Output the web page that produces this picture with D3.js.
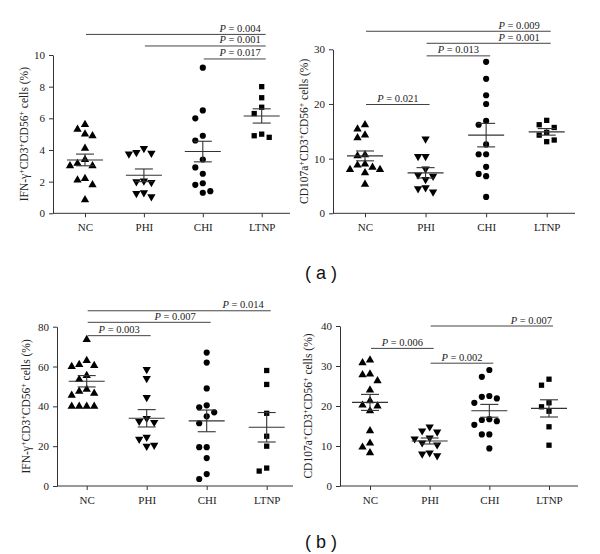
<!DOCTYPE html>
<html><head><meta charset="utf-8">
<script src="https://cdn.jsdelivr.net/npm/d3@7"></script>
<style>body{margin:0;background:#fff}svg{display:block}</style>
</head><body>
<svg id="c" width="600" height="554"></svg>
<script>
const categories = ["NC", "PHI", "CHI", "LTNP"];

// Panel (a) left: IFN-γ+CD3+CD56+ cells (%)
const a1NC   = [5.6, 5.3, 5.0, 4.9, 4.1, 3.4, 3.15, 3.0, 3.0, 2.2, 2.1, 1.8, 0.85];
const a1PHI  = [4.1, 3.85, 3.8, 3.75, 2.05, 2.0, 1.95, 1.3, 1.25, 1.05];
const a1CHI  = [9.2, 6.5, 6.0, 4.9, 4.6, 3.4, 2.9, 2.5, 1.9, 1.8, 1.4, 1.3];
const a1LTNP = [8.0, 7.3, 6.7, 6.3, 5.0, 4.9, 4.8];
const a1Mean = [3.37, 2.4, 3.9, 6.15];
const a1Sem  = [0.37, 0.4, 0.65, 0.45];
const a1Ticks = [0, 2, 4, 6, 8, 10];
const a1Comp = [["NC", "LTNP", 11.3, "0.004"], ["PHI", "LTNP", 10.57, "0.001"], ["CHI", "LTNP", 9.75, "0.017"]];

// Panel (a) right: CD107a+CD3+CD56+ cells (%)
const a2NC   = [16.2, 15.4, 14.3, 13.8, 10.7, 10.5, 9.0, 8.8, 8.4, 8.0, 8.0, 7.4, 5.3];
const a2PHI  = [13.6, 10.4, 10.4, 8.1, 7.0, 6.8, 6.2, 4.7, 4.5, 3.9];
const a2CHI  = [27.7, 24.6, 21.6, 20.0, 16.9, 16.2, 12.6, 10.8, 10.8, 8.5, 7.2, 6.8, 3.0];
const a2LTNP = [17.0, 16.2, 15.7, 14.8, 14.3, 13.4, 13.1];
const a2Mean = [10.5, 7.4, 14.3, 14.9];
const a2Sem  = [0.9, 0.95, 2.15, 0.6];
const a2Ticks = [0, 10, 20, 30];
const a2Comp = [["NC", "LTNP", 33.3, "0.009"], ["PHI", "LTNP", 31.1, "0.001"], ["PHI", "CHI", 28.8, "0.013"], ["NC", "PHI", 19.9, "0.021"]];

// Panel (b) left: IFN-γ+CD3+CD56+ cells (%)
const b1NC   = [73.5, 63, 61, 60.5, 60, 55.5, 53.5, 48.5, 47.5, 46.5, 45.5, 40, 40, 40, 40];
const b1PHI  = [58.5, 54, 44.5, 34, 32.5, 32, 24.5, 23.5, 20.5, 20];
const b1CHI  = [67, 62, 49, 40.5, 39.5, 37, 35, 31.5, 19.5, 19.5, 14, 6, 3.5];
const b1LTNP = [58, 51, 36.5, 25, 20, 9, 7.5];
const b1Mean = [52.6, 34.0, 32.7, 29.5];
const b1Sem  = [2.85, 4.35, 5.45, 7.4];
const b1Ticks = [0, 20, 40, 60, 80];
const b1Comp = [["NC", "LTNP", 88, "0.014"], ["NC", "CHI", 82.2, "0.007"], ["NC", "PHI", 75.5, "0.003"]];

// Panel (b) right: CD107a+CD3+CD56+ cells (%)
const b2NC   = [31.5, 30.8, 28, 27.8, 26.3, 24, 21.3, 20.2, 20, 18.8, 13.8, 10.7, 9.7, 8.3];
const b2PHI  = [14.8, 13.8, 13.5, 12, 11.8, 10.8, 10.3, 8.3, 8.0, 7.6];
const b2CHI  = [29, 27.3, 22.5, 22.3, 21.9, 20.8, 16.7, 16.5, 16.2, 15.3, 12.9, 12.9, 9.4];
const b2LTNP = [26.7, 25.2, 20.8, 19.8, 18.7, 14.8, 10.2];
const b2Mean = [20.9, 11.25, 18.8, 19.4];
const b2Sem  = [2.0, 0.75, 1.6, 2.15];
const b2Ticks = [0, 10, 20, 30, 40];
const b2Comp = [["PHI", "LTNP", 40, "0.007"], ["NC", "PHI", 34.4, "0.006"], ["PHI", "CHI", 30.7, "0.002"]];

const ifnLabel = [["IFN-γ", false], ["+", true], ["CD3", false], ["+", true], ["CD56", false], ["+", true], [" cells (%)", false]];
const cdLabel  = [["CD107a", false], ["+", true], ["CD3", false], ["+", true], ["CD56", false], ["+", true], [" cells (%)", false]];
const panelLetters = ["( a )", "( b )"];

// ---- layout (not data) ----
const layouts = [
  {x0: 53,  xEnd: 290, xFirst: 85,  xLast: 261.7, yBot: 213.3, yTop: 55,   labX: 28,  anchors: [["end", -5], ["end", -5], ["end", -5]]},
  {x0: 333, xEnd: 575, xFirst: 365, xLast: 546.7, yBot: 213.3, yTop: 49.3, labX: 308, anchors: [["end", -11], ["end", -11], ["middle", 0], ["middle", 0]]},
  {x0: 57,  xEnd: 293, xFirst: 86.7,xLast: 266.7, yBot: 486,   yTop: 326.7,labX: 30,  anchors: [["end", -7], ["end", -15], ["middle", 0]]},
  {x0: 340, xEnd: 578, xFirst: 370, xLast: 549,   yBot: 486,   yTop: 326,  labX: 311.7, anchors: [["end", -1], ["middle", 0], ["middle", 0]]}
];
const panels = [
  {groups: [a1NC, a1PHI, a1CHI, a1LTNP], mean: a1Mean, sem: a1Sem, ticks: a1Ticks, comp: a1Comp, label: ifnLabel},
  {groups: [a2NC, a2PHI, a2CHI, a2LTNP], mean: a2Mean, sem: a2Sem, ticks: a2Ticks, comp: a2Comp, label: cdLabel},
  {groups: [b1NC, b1PHI, b1CHI, b1LTNP], mean: b1Mean, sem: b1Sem, ticks: b1Ticks, comp: b1Comp, label: ifnLabel},
  {groups: [b2NC, b2PHI, b2CHI, b2LTNP], mean: b2Mean, sem: b2Sem, ticks: b2Ticks, comp: b2Comp, label: cdLabel}
];

const svg = d3.select("#c");
const serif = "'Liberation Serif', 'Times New Roman', serif";
const symbols = [
  {type: d3.symbolTriangle, size: 30, rot: 0},
  {type: d3.symbolTriangle, size: 30, rot: 180},
  {type: d3.symbolCircle, size: 30, rot: 0},
  {type: d3.symbolSquare, size: 28, rot: 0}
];

function swarm(values, yScale, cx) {
  const slot = 7.5, minGap = 8;
  const placed = [];
  const sorted = values.slice().sort((a, b) => b - a);
  const order = [0, -1, 1, -2, 2, -3, 3, -4, 4];
  return sorted.map(v => {
    const py = yScale(v);
    let s = 0;
    for (const o of order) {
      if (!placed.some(p => p.s === o && Math.abs(p.py - py) < minGap)) { s = o; break; }
    }
    placed.push({s, py});
    return {v, x: cx + s * slot, y: py};
  });
}

panels.forEach((p, i) => {
  const L = layouts[i];
  const g = svg.append("g");
  const y = d3.scaleLinear().domain([0, d3.max(p.ticks)]).range([L.yBot, L.yTop]);
  const x = d3.scalePoint().domain(categories).range([L.xFirst, L.xLast]);

  // y axis
  const ya = g.append("g").attr("transform", `translate(${L.x0},0)`)
    .call(d3.axisLeft(y).tickValues(p.ticks).tickSize(4).tickSizeOuter(0).tickPadding(4));
  ya.attr("font-family", serif).attr("font-size", 11);
  ya.selectAll("text").attr("fill", "#222");
  ya.selectAll("line,path").attr("stroke", "#333");

  // x axis
  g.append("line").attr("x1", L.x0).attr("x2", L.xEnd).attr("y1", L.yBot).attr("y2", L.yBot).attr("stroke", "#333");
  const xa = g.append("g").attr("transform", `translate(0,${L.yBot})`)
    .call(d3.axisBottom(x).tickSize(4).tickPadding(6));
  xa.attr("font-family", serif).attr("font-size", 11);
  xa.select(".domain").remove();
  xa.selectAll("line").attr("stroke", "#333");
  xa.selectAll("text").attr("fill", "#222");

  // y label
  const cy = (L.yBot + L.yTop) / 2;
  const lab = g.append("text").attr("transform", `translate(${L.labX},${cy}) rotate(-90)`)
    .attr("text-anchor", "middle").attr("font-family", serif).attr("font-size", 11.5).attr("fill", "#222");
  let prevSup = false;
  p.label.forEach(([t, sup]) => {
    const dy = sup ? -4 : (prevSup ? 4 : 0);
    lab.append("tspan").text(t).attr("font-size", sup ? 8 : 11.5).attr("dy", dy);
    prevSup = sup;
  });

  // points
  p.groups.forEach((vals, k) => {
    const pts = swarm(vals, y, x(categories[k]));
    const sym = symbols[k];
    g.selectAll(null).data(pts).enter().append("path")
      .attr("d", d3.symbol().type(sym.type).size(sym.size))
      .attr("transform", d => `translate(${d.x},${d.y}) rotate(${sym.rot})`)
      .attr("fill", "#000");
  });

  // mean +- sem
  categories.forEach((c, k) => {
    const cx = x(c), m = p.mean[k], s = p.sem[k];
    const line = (x1, y1, x2, y2) => g.append("line")
      .attr("x1", x1).attr("y1", y1).attr("x2", x2).attr("y2", y2)
      .attr("stroke", "#333").attr("stroke-width", 1.1);
    line(cx - 18, y(m), cx + 18, y(m));
    line(cx - 9, y(m + s), cx + 9, y(m + s));
    line(cx - 9, y(m - s), cx + 9, y(m - s));
    line(cx, y(m + s), cx, y(m - s));
  });

  // significance bars
  p.comp.forEach(([a, b, lvl, pv], j) => {
    const x1 = x(a) + 1, x2 = x(b) + 4, yy = y(lvl);
    g.append("line").attr("x1", x1).attr("x2", x2).attr("y1", yy).attr("y2", yy).attr("stroke", "#444").attr("stroke-width", 1);
    const [anc, dx] = L.anchors[j];
    const tx = anc === "end" ? x2 + dx : (x1 + x2) / 2;
    const t = g.append("text").attr("x", tx).attr("y", yy - 2.5).attr("text-anchor", anc)
      .attr("font-family", serif).attr("font-size", 10.5).attr("fill", "#222");
    t.append("tspan").attr("font-style", "italic").text("P");
    t.append("tspan").text(" = " + pv);
  });
});

// panel letters
[[321, 279], [321, 548]].forEach(([px, py], i) => {
  svg.append("text").attr("x", px).attr("y", py).attr("text-anchor", "middle")
    .attr("font-family", "'Liberation Sans', Arial, sans-serif").attr("font-size", 18).attr("fill", "#111")
    .text(panelLetters[i]);
});
</script>
</body></html>
